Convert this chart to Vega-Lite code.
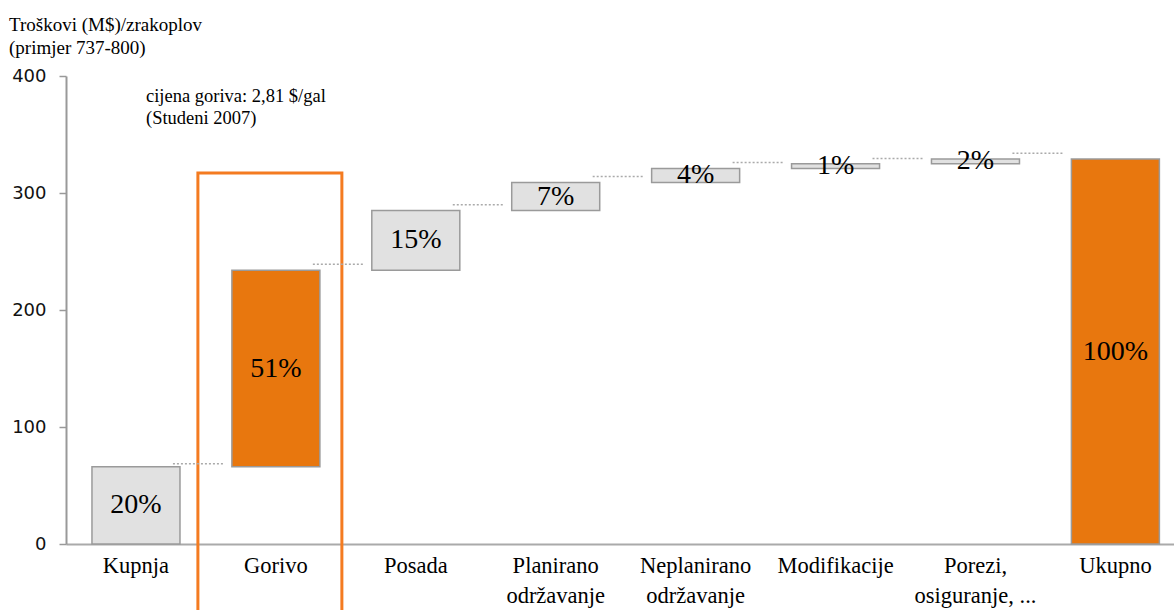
{
  "$schema": "https://vega.github.io/schema/vega-lite/v6.json",
  "width": 1108,
  "height": 468,
  "autosize": {"type": "none"},
  "padding": {"left": 66, "top": 76, "right": 0, "bottom": 66},
  "background": "white",
  "config": {"view": {"stroke": null}, "font": "Liberation Serif"},
  "title": {
    "text": ["Troškovi (M$)/zrakoplov", "(primjer 737-800)"],
    "anchor": "start",
    "frame": "group",
    "dx": -57,
    "offset": 9,
    "font": "Liberation Serif",
    "fontSize": 19,
    "fontWeight": "normal",
    "lineHeight": 23,
    "color": "black"
  },
  "datasets": {
    "costs": [
      {"cat": "Kupnja", "start": 0, "end": 66, "pct": "20%", "group": "stavka"},
      {"cat": "Gorivo", "start": 66, "end": 234, "pct": "51%", "group": "gorivo"},
      {"cat": "Posada", "start": 234, "end": 285, "pct": "15%", "group": "stavka"},
      {"cat": "Planirano održavanje", "start": 285, "end": 309, "pct": "7%", "group": "stavka"},
      {"cat": "Neplanirano održavanje", "start": 309, "end": 321, "pct": "4%", "group": "stavka"},
      {"cat": "Modifikacije", "start": 321, "end": 325, "pct": "1%", "group": "stavka"},
      {"cat": "Porezi, osiguranje, ...", "start": 325, "end": 329, "pct": "2%", "group": "stavka"},
      {"cat": "Ukupno", "start": 0, "end": 329, "pct": "100%", "group": "ukupno"}
    ],
    "links": [
      {"from": "Kupnja", "to": "Gorivo", "level": 68.5},
      {"from": "Gorivo", "to": "Posada", "level": 239},
      {"from": "Posada", "to": "Planirano održavanje", "level": 290},
      {"from": "Planirano održavanje", "to": "Neplanirano održavanje", "level": 314},
      {"from": "Neplanirano održavanje", "to": "Modifikacije", "level": 326},
      {"from": "Modifikacije", "to": "Porezi, osiguranje, ...", "level": 329.5},
      {"from": "Porezi, osiguranje, ...", "to": "Ukupno", "level": 334}
    ],
    "frame": [{"cat": "Gorivo", "bottom": -60, "top": 317}],
    "note": [{"cat": "Kupnja", "y": 391, "text": "cijena goriva: 2,81 $/gal\n(Studeni 2007)"}]
  },
  "encoding": {
    "x": {
      "field": "cat",
      "type": "nominal",
      "title": null,
      "scale": {
        "domain": ["Kupnja", "Gorivo", "Posada", "Planirano održavanje", "Neplanirano održavanje", "Modifikacije", "Porezi, osiguranje, ...", "Ukupno"],
        "paddingInner": 0.371,
        "paddingOuter": 0.145,
        "align": 0.64
      },
      "axis": {
        "title": null,
        "domainColor": "#aaaaaa",
        "domainWidth": 2,
        "ticks": false,
        "labelAngle": 0,
        "labelFont": "Liberation Serif",
        "labelFontSize": 22.5,
        "labelColor": "black",
        "labelPadding": 10,
        "labelBaseline": "top",
        "labelLineHeight": 30,
        "labelLimit": 0,
        "labelOverlap": false,
        "labelExpr": "datum.label == 'Planirano održavanje' ? ['Planirano', 'održavanje'] : datum.label == 'Neplanirano održavanje' ? ['Neplanirano', 'održavanje'] : datum.label == 'Porezi, osiguranje, ...' ? ['Porezi,', 'osiguranje, ...'] : datum.label"
      }
    }
  },
  "layer": [
    {
      "data": {"name": "frame"},
      "mark": {"type": "bar", "filled": false, "stroke": "#f47b20", "strokeWidth": 3, "width": {"band": 1.636}, "xOffset": -6, "clip": false},
      "encoding": {
        "y": {"field": "bottom", "type": "quantitative", "title": null},
        "y2": {"field": "top"}
      }
    },
    {
      "data": {"name": "costs"},
      "mark": {"type": "bar", "stroke": "#9a9a9a", "strokeWidth": 1.5},
      "encoding": {
        "y": {
          "field": "start",
          "type": "quantitative",
          "title": null,
          "scale": {"domain": [0, 400], "nice": false},
          "axis": {
            "title": null,
            "values": [0, 100, 200, 300, 400],
            "grid": false,
            "domainColor": "#999999",
            "domainWidth": 2,
            "tickColor": "#999999",
            "tickSize": 7,
            "tickWidth": 1.5,
            "labelFont": "DejaVu Sans",
            "labelFontSize": 18,
            "labelColor": "#111111",
            "labelPadding": 13
          }
        },
        "y2": {"field": "end"},
        "fill": {
          "field": "group",
          "type": "nominal",
          "scale": {"domain": ["stavka", "gorivo", "ukupno"], "range": ["#e1e1e1", "#e8770e", "#e8770e"]},
          "legend": null
        }
      }
    },
    {
      "data": {"name": "links"},
      "mark": {"type": "rule", "stroke": "#aaaaaa", "strokeWidth": 1.5, "strokeDash": [2, 2]},
      "encoding": {
        "x": {"field": "from", "type": "nominal", "bandPosition": 0.92, "title": null},
        "x2": {"field": "to", "bandPosition": -0.1},
        "y": {"field": "level", "type": "quantitative", "title": null}
      }
    },
    {
      "data": {"name": "costs"},
      "transform": [
        {"fold": ["start", "end"], "as": ["edge", "value"]},
        {"aggregate": [{"op": "mean", "field": "value", "as": "mid"}], "groupby": ["cat", "pct"]}
      ],
      "mark": {"type": "text", "font": "Liberation Serif", "fontSize": 28, "color": "black", "baseline": "middle"},
      "encoding": {
        "y": {"field": "mid", "type": "quantitative", "title": null},
        "text": {"field": "pct"}
      }
    },
    {
      "data": {"name": "note"},
      "mark": {"type": "text", "font": "Liberation Serif", "fontSize": 18.5, "color": "black", "align": "left", "baseline": "top", "dx": 10, "lineBreak": "\n", "lineHeight": 22},
      "encoding": {
        "y": {"field": "y", "type": "quantitative", "title": null},
        "text": {"field": "text"}
      }
    }
  ]
}
